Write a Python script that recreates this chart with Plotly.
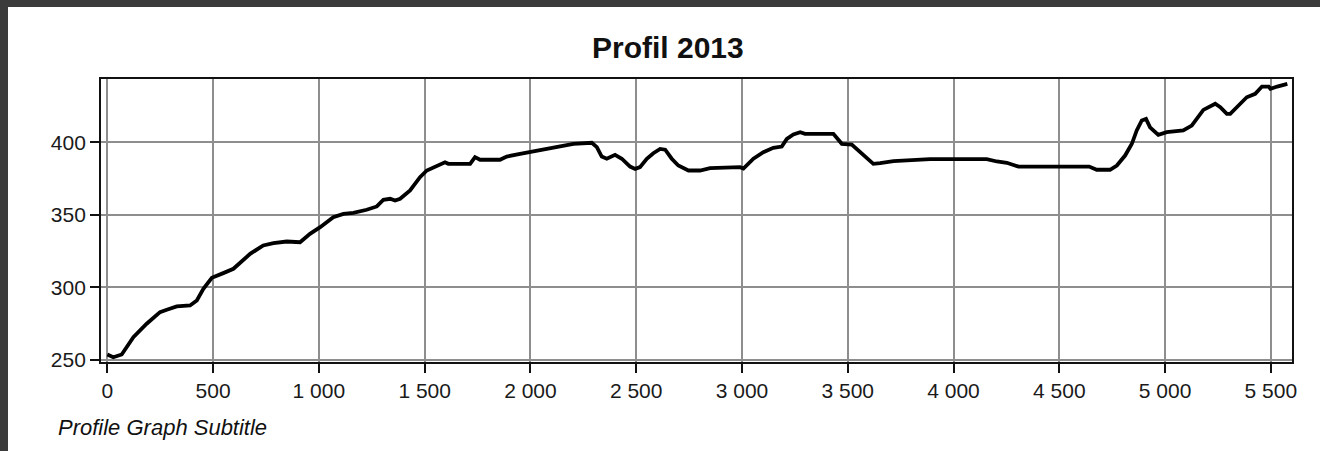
import plotly.graph_objects as go

# ---- data ----
distance = [0, 28, 68, 123, 186, 249, 281, 328, 391, 423, 454, 494, 548, 596, 675, 737, 785, 848, 911,
            958, 1006, 1068, 1116, 1163, 1226, 1274, 1305, 1337, 1360, 1384, 1431, 1478, 1510, 1557,
            1596, 1612, 1715, 1738, 1762, 1856, 1888, 1951, 2030, 2109, 2203, 2290, 2314, 2337, 2361,
            2400, 2432, 2471, 2495, 2518, 2550, 2581, 2613, 2637, 2668, 2699, 2747, 2802, 2849, 2991,
            3007, 3054, 3101, 3148, 3188, 3212, 3243, 3275, 3298, 3432, 3472, 3519, 3574, 3621, 3653,
            3716, 3889, 4157, 4205, 4252, 4307, 4641, 4677, 4740, 4772, 4811, 4843, 4866, 4890, 4910,
            4929, 4968, 5008, 5086, 5126, 5158, 5181, 5237, 5261, 5292, 5308, 5339, 5386, 5426, 5458,
            5490, 5498, 5530, 5578]
elevation = [253.5, 251.7, 253.6, 265.5, 274.8, 282.8, 284.4, 286.7, 287.4, 290.8, 298.9, 306.5, 309.7,
             312.7, 323.0, 328.8, 330.4, 331.5, 331.0, 336.8, 341.4, 348.3, 350.6, 351.3, 353.4, 355.7,
             360.3, 361.0, 359.8, 361.0, 366.7, 375.9, 380.5, 383.9, 386.2, 385.1, 385.1, 389.7, 387.9,
             387.9, 390.1, 392.0, 394.3, 396.1, 398.9, 399.6, 396.6, 390.1, 388.6, 391.3, 388.6, 383.2,
             381.6, 382.8, 388.6, 392.4, 395.4, 394.8, 388.6, 383.9, 380.5, 380.5, 382.1, 382.8, 381.8,
             388.6, 393.1, 396.1, 397.0, 402.3, 405.3, 406.9, 405.8, 405.8, 398.9, 398.4, 390.8, 385.1,
             385.5, 386.9, 388.3, 388.3, 386.7, 385.8, 383.2, 383.2, 381.0, 381.0, 383.9, 390.8, 398.9,
             408.1, 415.0, 416.1, 410.3, 405.1, 406.9, 408.1, 411.5, 417.2, 422.3, 426.5, 424.1, 419.6,
             419.6, 424.1, 431.0, 433.4, 438.4, 438.4, 436.8, 438.4, 440.2]

x_tickvals = [0, 500, 1000, 1500, 2000, 2500, 3000, 3500, 4000, 4500, 5000, 5500]
x_ticktext = ["0", "500", "1 000", "1 500", "2 000", "2 500", "3 000", "3 500", "4 000", "4 500", "5 000", "5 500"]
y_tickvals = [250, 300, 350, 400]
y_ticktext = ["250", "300", "350", "400"]

title_text = "Profil 2013"
subtitle_text = "Profile Graph Subtitle"

# ---- layout geometry (pixels) ----
W, H = 1320, 451
L, R, T, B = 101, 1292, 79, 362
PW, PH = R - L, B - T


def px(x):
    return (x - L) / PW


def py(y):
    return (B - y) / PH


FONT = "Liberation Sans, Arial, sans-serif"
GRID = "#8e8e8e"

fig = go.Figure()
fig.add_trace(go.Scatter(x=distance, y=elevation, mode="lines",
                         line=dict(color="black", width=3.8), hoverinfo="skip"))

fig.update_layout(
    width=W, height=H,
    margin=dict(l=L, r=W - R, t=T, b=H - B, pad=0),
    paper_bgcolor="#3b3b3b",
    plot_bgcolor="white",
    showlegend=False,
    font=dict(family=FONT, color="#1a1a1a"),
    xaxis=dict(range=[-30, 5600], tickvals=x_tickvals, ticktext=x_ticktext,
               showgrid=True, gridcolor=GRID, gridwidth=1.5, zeroline=False,
               showline=True, linecolor="#111", linewidth=1.8, mirror=True,
               ticks="outside", ticklen=9, tickcolor="#111", tickwidth=1.5,
               tickfont=dict(size=21, family=FONT, color="#1a1a1a")),
    yaxis=dict(range=[248.4, 443.6], tickvals=y_tickvals, ticktext=y_ticktext,
               showgrid=True, gridcolor=GRID, gridwidth=1.5, zeroline=False,
               showline=True, linecolor="#111", linewidth=1.8, mirror=True,
               ticks="outside", ticklen=9, tickcolor="#111", tickwidth=1.5,
               tickfont=dict(size=21, family=FONT, color="#1a1a1a")),
    shapes=[dict(type="rect", xref="paper", yref="paper",
                 x0=px(8), x1=px(W + 5), y0=py(H + 5), y1=py(7),
                 fillcolor="white", line=dict(width=0), layer="below")],
    annotations=[
        dict(text="<b>" + title_text + "</b>", xref="paper", yref="paper",
             x=px(668), y=py(47), xanchor="center", yanchor="middle", showarrow=False,
             font=dict(size=30, family=FONT, color="#111")),
        dict(text="<i>" + subtitle_text + "</i>", xref="paper", yref="paper",
             x=px(56), y=py(428), xanchor="left", yanchor="middle", showarrow=False,
             font=dict(size=22, family=FONT, color="#111")),
    ],
)

fig.write_html("out.html", config={"displayModeBar": False},
               post_script="document.body.style.margin='0';document.body.style.overflow='hidden';")
